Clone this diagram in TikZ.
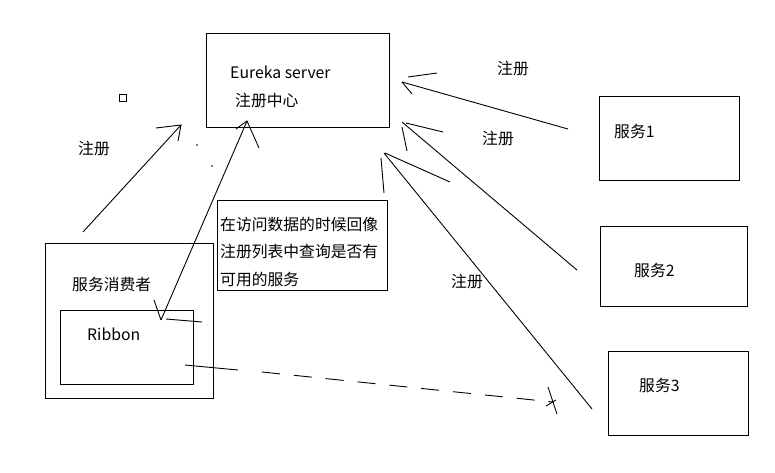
\documentclass[tikz,border=0pt]{standalone}
\usepackage{fontspec}
\setmainfont{Noto Sans CJK SC}
\begin{document}
\begin{tikzpicture}[x=1pt,y=-1pt,
  box/.style={draw=black,line width=1pt,inner sep=0pt},
  lbl/.style={anchor=west,inner sep=0pt,font=\fontsize{15.8}{18}\selectfont},
  stroke/.style={line width=0.9pt,black}]
\useasboundingbox[fill=white] (0,0) rectangle (775,472);
% boxes
\node[box,minimum width=183pt,minimum height=94pt] (eureka) at (297.5,80) {};
\node[box,minimum width=168pt,minimum height=155pt] (consumer) at (129,320.5) {};
\node[box,minimum width=133pt,minimum height=74pt] (ribbon) at (126.5,347) {};
\node[box,minimum width=170pt,minimum height=90pt] (note) at (302,245) {};
\node[box,minimum width=140pt,minimum height=84pt] (s1) at (669,138) {};
\node[box,minimum width=147pt,minimum height=80pt] (s2) at (673.5,266) {};
\node[box,minimum width=140pt,minimum height=84pt] (s3) at (678,393) {};
\node[draw=black,line width=1pt,minimum size=7pt,inner sep=0pt] (sq) at (123,98) {};
% texts
\node[lbl] (t1) at (230,72) {Eureka server};
\node[lbl] (t2) at (235,101) {注册中心};
\node[lbl] (t3) at (72,284) {服务消费者};
\node[lbl] (t4) at (87,334) {Ribbon};
\node[lbl] (t5) at (614,131) {服务1};
\node[lbl] (t6) at (634,270) {服务2};
\node[lbl] (t7) at (639,385) {服务3};
\node[lbl] (n1) at (220,224) {在访问数据的时候回像};
\node[lbl] (n2) at (220,252) {注册列表中查询是否有};
\node[lbl] (n3) at (220,279) {可用的服务};
\node[lbl] (r1) at (497,69) {注册};
\node[lbl] (r2) at (482,139) {注册};
\node[lbl] (r3) at (451,282) {注册};
\node[lbl] (r4) at (78,149) {注册};
% coordinates
\coordinate (a1s) at (83,232); \coordinate (a1t) at (181,125);
\coordinate (a2t) at (247,121); \coordinate (a2b) at (161,320);
\coordinate (q1s) at (568,129); \coordinate (q1t) at (402,82);
\coordinate (q2s) at (577,270); \coordinate (q2t) at (402,122);
\coordinate (q3s) at (592,409); \coordinate (q3t) at (384,153);
\coordinate (ds) at (185,365); \coordinate (dm) at (238,370); \coordinate (dm2) at (262,372); \coordinate (de) at (553,402);
% consumer -> eureka
\draw[stroke] (a1s) -- (a1t);
\draw[stroke] (156,128) -- (a1t) -- (178,141);
\fill (197,145) circle (0.8pt);
\fill (212,166) circle (0.8pt);
% ribbon <-> eureka
\draw[stroke] (a2t) -- (a2b);
\draw[stroke] (236,129) -- (a2t) -- (259,148);
\draw[stroke] (154,300) -- (a2b);
\draw[stroke] (166,319) -- (202,322);
% services -> eureka
\draw[stroke] (q1s) -- (q1t);
\draw[stroke] (408,77) -- (437,73);
\draw[stroke] (q1t) -- (412,94);
\draw[stroke] (q2s) -- (q2t);
\draw[stroke] (406,123) -- (443,132);
\draw[stroke] (402,127) -- (407,151);
\draw[stroke] (q3s) -- (q3t);
\draw[stroke] (385,153) -- (450,182);
\draw[stroke] (381,158) -- (384,193);
% dashed ribbon -> service 3
\draw[stroke] (ds) -- (dm);
\draw[stroke,dash pattern=on 18pt off 14pt] (dm2) -- (de);
\draw[stroke] (548,387) -- (557,414);
\draw[stroke] (546,406) -- (556,400);
\end{tikzpicture}
\end{document}
